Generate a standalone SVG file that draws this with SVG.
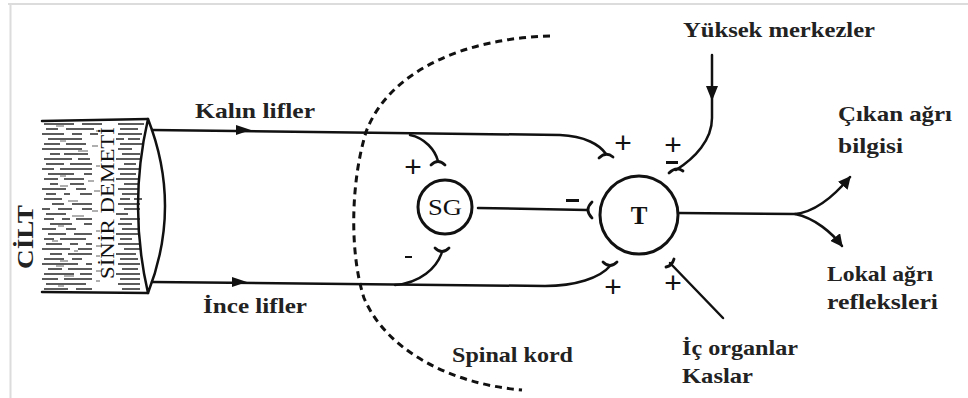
<svg xmlns="http://www.w3.org/2000/svg" width="968" height="398" viewBox="0 0 968 398">
<style>
.ln{fill:none;stroke:#111;stroke-width:2.5;stroke-linecap:round}
.term{fill:none;stroke:#111;stroke-width:2.8;stroke-linecap:round}
.node{fill:#fff;stroke:#111;stroke-width:3}
.lbl{font-family:"Liberation Serif","Times New Roman",serif;font-weight:bold;font-size:21px;fill:#222}
.sign{font-family:"Liberation Sans",Arial,sans-serif;font-size:30px;fill:#111}
.dash{fill:none;stroke:#111;stroke-width:3;stroke-dasharray:7 5}
</style>
<defs>
<marker id="ah" viewBox="0 0 10 10" refX="9" refY="5" markerWidth="5" markerHeight="5" orient="auto" markerUnits="strokeWidth">
<path d="M0,0 L10,5 L0,10 z" fill="#111"/>
</marker>
</defs>
<rect width="968" height="398" fill="#fff"/>
<g id="frame" stroke="#dcdcdc" stroke-width="2" fill="none">
<path d="M8,4 H968 M10.5,3 V398"/>
</g>
<g id="skin">
<path stroke="#333" stroke-width="2" fill="none" opacity="0.8" d="M44,124h30 M82,124h20 M118,124h26 M46,129h12 M66,129h28 M120,129h18 M42,134h22 M72,134h10 M90,134h8 M118,134h24 M48,139h34 M116,139h8 M128,139h12 M44,144h16 M66,144h20 M120,144h22 M42,149h40 M118,149h14 M50,154h10 M64,154h24 M122,154h18 M44,159h28 M78,159h12 M116,159h26 M46,164h18 M70,164h22 M124,164h12 M42,169h12 M60,169h32 M118,169h22 M48,174h26 M84,174h8 M120,174h16 M44,179h14 M64,179h20 M116,179h24 M50,184h8 M70,184h14 M124,184h14 M42,189h24 M76,189h10 M118,189h20 M46,194h10 M64,194h6 M80,194h12 M122,194h16 M44,199h18 M120,199h10 M134,199h8 M52,204h12 M72,204h20 M118,204h22 M42,209h8 M58,209h14 M82,209h10 M124,209h16 M46,214h20 M116,214h12 M44,219h10 M62,219h8 M76,219h16 M120,219h20 M50,224h22 M84,224h8 M118,224h14 M42,229h14 M66,229h10 M122,229h18 M48,234h18 M74,234h18 M116,234h24 M44,239h10 M60,239h26 M120,239h12 M46,244h16 M70,244h8 M86,244h6 M118,244h22 M42,249h28 M78,249h14 M124,249h16 M50,254h12 M68,254h24 M116,254h20 M44,259h20 M72,259h10 M120,259h18 M42,264h36 M86,264h6 M118,264h22 M48,269h14 M68,269h24 M122,269h16 M44,274h30 M80,274h12 M116,274h24 M42,279h16 M64,279h28 M120,279h20 M46,284h40 M118,284h22 M44,289h24 M76,289h16 M122,289h18"/>
<path stroke="#666" stroke-width="1.5" fill="none" opacity="0.7" d="M56,126h8 M96,131h6 M60,141h6 M92,146h6 M78,151h10 M96,166h4 M60,176h6 M88,181h6 M60,186h8 M94,191h6 M68,201h10 M92,211h6 M72,216h12 M58,226h6 M96,231h4 M52,241h6 M96,246h6 M74,251h4 M96,256h4 M60,261h8 M56,266h8 M96,271h6 M64,276h10 M96,281h4 M58,286h6"/>
<path class="ln" d="M42,121 L148,119 M42,292 L148,293"/>
<path class="ln" d="M148,119 Q128,206 148,293 M148,119 Q182,206 148,293"/>
<text class="lbl" style="font-size:24px" text-anchor="middle" transform="translate(33,237) rotate(-90)" textLength="64" lengthAdjust="spacingAndGlyphs">CİLT</text>
<text font-family="Liberation Serif,'Times New Roman',serif" font-size="19" fill="#111" text-anchor="middle" transform="translate(114,203) rotate(-90)" textLength="152" lengthAdjust="spacingAndGlyphs">SİNİR DEMETİ</text>
</g>
<g id="spinal-cord">
<path class="dash" d="M550,36 C470,38 390,68 366,132 C350,185 350,255 364,298 C386,350 450,384 522,390"/>
</g>
<g id="connectors">
<path class="ln" d="M152,130 L560,135 C585,136 600,145 606,154"/>
<path d="M236,125 L251,130 L236,135 z" fill="#111"/>
<path class="ln" d="M410,135 C425,138 435,150 438,161"/>
<path class="ln" d="M152,282 L545,286 C575,286 600,278 610,266"/>
<path d="M232,277 L247,282 L232,287 z" fill="#111"/>
<path class="ln" d="M395,285 C420,283 437,268 442,252"/>
<path class="ln" d="M478,208 L587,210"/>
<path class="ln" d="M712,55 L712,118 C712,140 695,158 676,170"/>
<path d="M706,86 L712,101 L718,86 z" fill="#111"/>
<path class="ln" d="M723,318 L670,263"/>
<path class="ln" d="M678,213 L795,214 C815,212 835,195 850,177" marker-end="url(#ah)"/>
<path class="ln" d="M795,214 C815,218 832,233 842,246" marker-end="url(#ah)"/>
<path class="term" d="M431,165 Q438,158 445,165"/>
<path class="term" d="M599,158 Q606,151 613,157"/>
<path class="term" d="M592,202 Q584,210 592,218"/>
<path class="term" d="M603,262 Q610,269 617,262"/>
<path class="term" d="M435,248 Q442,255 449,248"/>
<path class="term" d="M669,173 Q676,166 683,171"/>
<path class="term" d="M666,267 Q672,266 674,259"/>
</g>
<g id="signs">
<text class="sign" x="413" y="177" text-anchor="middle">+</text>
<rect x="405" y="256" width="7" height="2" fill="#111"/>
<text class="sign" x="623" y="153" text-anchor="middle">+</text>
<text class="sign" x="673" y="155" text-anchor="middle">+</text>
<rect x="666" y="161" width="12" height="3" fill="#111"/>
<rect x="566" y="199" width="13" height="3" fill="#111"/>
<text class="sign" x="613" y="297" text-anchor="middle">+</text>
<text class="sign" x="673" y="293" text-anchor="middle">+</text>
</g>
<g id="SG">
<circle class="node" cx="445" cy="207" r="27"/>
<text x="445" y="215" text-anchor="middle" font-family="Liberation Serif,'Times New Roman',serif" font-size="23" fill="#111" textLength="34" lengthAdjust="spacingAndGlyphs">SG</text>
</g>
<g id="T">
<circle class="node" cx="639" cy="215" r="39"/>
<text x="639" y="224" text-anchor="middle" font-family="Liberation Serif,'Times New Roman',serif" font-weight="bold" font-size="25" fill="#111">T</text>
</g>
<g id="labels">
<text class="lbl" x="195" y="118" textLength="120" lengthAdjust="spacingAndGlyphs">Kalın lifler</text>
<text class="lbl" x="203" y="313" textLength="104" lengthAdjust="spacingAndGlyphs">İnce lifler</text>
<text class="lbl" x="683" y="37" textLength="192" lengthAdjust="spacingAndGlyphs">Yüksek merkezler</text>
<text class="lbl" x="838" y="121" textLength="114" lengthAdjust="spacingAndGlyphs">Çıkan ağrı</text>
<text class="lbl" x="838" y="153" textLength="65" lengthAdjust="spacingAndGlyphs">bilgisi</text>
<text class="lbl" x="827" y="281" textLength="106" lengthAdjust="spacingAndGlyphs">Lokal ağrı</text>
<text class="lbl" x="827" y="309" textLength="111" lengthAdjust="spacingAndGlyphs">refleksleri</text>
<text class="lbl" x="682" y="355" textLength="116" lengthAdjust="spacingAndGlyphs">İç organlar</text>
<text class="lbl" x="682" y="383" textLength="71" lengthAdjust="spacingAndGlyphs">Kaslar</text>
<text class="lbl" x="452" y="362" textLength="121" lengthAdjust="spacingAndGlyphs">Spinal kord</text>
</g>
</svg>
